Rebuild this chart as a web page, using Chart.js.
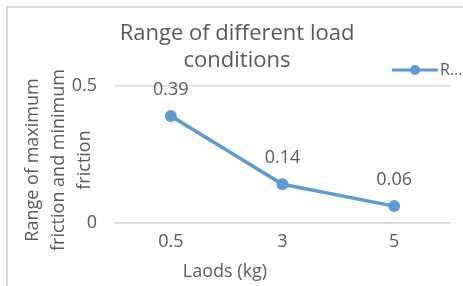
<!DOCTYPE html>
<html>
<head>
<meta charset="utf-8">
<script src="https://cdn.jsdelivr.net/npm/chart.js@4/dist/chart.umd.min.js"></script>
<style>
  html, body { margin: 0; padding: 0; background: #fff; }
  #wrap { width: 463px; height: 286px; position: relative; }
</style>
</head>
<body>
<div id="wrap"><canvas id="chart" width="463" height="286"></canvas></div>
<script>
const loads = ['0.5', '3', '5'];
const frictionRange = [0.39, 0.14, 0.06];
const yTicks = [0, 0.5];
const titleLines = ['Range of different load', 'conditions'];
const yTitleLines = ['Range of maximum', 'friction and minimum', 'friction'];
const xTitle = 'Laods (kg)';
const legendText = 'R...';

const FONT = '"Open Sans", sans-serif';
const GREY = '#595959';
const BLUE = '#5B9BD5';

// draws the frame, titles, legend and data labels on top of the chart
const decor = {
    id: 'decor',
    beforeDraw(chart) {
        const c = chart.ctx;
        c.save();
        c.fillStyle = '#fff';
        c.fillRect(0, 0, chart.width, chart.height);
        c.strokeStyle = '#d9d9d9';
        c.lineWidth = 2;
        c.beginPath();
        c.moveTo(7, 286);
        c.lineTo(7, 7);
        c.lineTo(463, 7);
        c.stroke();
        c.restore();
    },
    afterDraw(chart) {
        const c = chart.ctx;
        c.save();
        c.fillStyle = GREY;
        c.textAlign = 'center';
        c.textBaseline = 'middle';

        c.font = '22px ' + FONT;
        c.fillText(titleLines[0], 237, 34);
        c.fillText(titleLines[1], 237, 61);

        c.font = '18px ' + FONT;
        c.fillText(xTitle, 225, 272);

        c.save();
        c.translate(0, 160);
        c.rotate(-Math.PI / 2);
        yTitleLines.forEach((t, i) => c.fillText(t, 0, 33 + i * 26));
        c.restore();

        // data labels
        const meta = chart.getDatasetMeta(0);
        meta.data.forEach((pt, i) => {
            c.fillText(frictionRange[i].toString(), pt.x, pt.y - 26);
        });

        // legend
        c.strokeStyle = BLUE;
        c.lineWidth = 3;
        c.beginPath();
        c.moveTo(392, 70);
        c.lineTo(438, 70);
        c.stroke();
        c.fillStyle = BLUE;
        c.beginPath();
        c.arc(415, 70, 5, 0, Math.PI * 2);
        c.fill();
        c.fillStyle = GREY;
        c.textAlign = 'left';
        c.font = '16px ' + FONT;
        c.fillText(legendText, 440, 70);
        c.restore();
    }
};

new Chart(document.getElementById('chart'), {
    type: 'line',
    data: {
        labels: loads,
        datasets: [{
            data: frictionRange,
            borderColor: BLUE,
            backgroundColor: BLUE,
            borderWidth: 3.5,
            pointRadius: 6,
            pointBorderWidth: 0,
            tension: 0
        }]
    },
    options: {
        responsive: false,
        animation: false,
        layout: { padding: { left: 0, right: 13, top: 86, bottom: 0 } },
        plugins: {
            legend: { display: false },
            title: { display: false },
            tooltip: { enabled: false }
        },
        scales: {
            x: {
                offset: true,
                grid: { display: false, drawTicks: false },
                border: { color: '#d9d9d9', width: 1.5 },
                ticks: { color: GREY, font: { family: FONT, size: 18 }, padding: 9 },
                afterFit(scale) { scale.height = 63.5; }
            },
            y: {
                min: yTicks[0],
                max: yTicks[yTicks.length - 1],
                afterBuildTicks(scale) { scale.ticks = yTicks.map(v => ({ value: v })); },
                grid: { color: '#d9d9d9', lineWidth: 1.5, drawTicks: false },
                border: { display: false },
                ticks: { color: GREY, font: { family: FONT, size: 18 }, padding: 18 },
                afterFit(scale) { scale.width = 115; }
            }
        }
    },
    plugins: [decor]
});
</script>
</body>
</html>
